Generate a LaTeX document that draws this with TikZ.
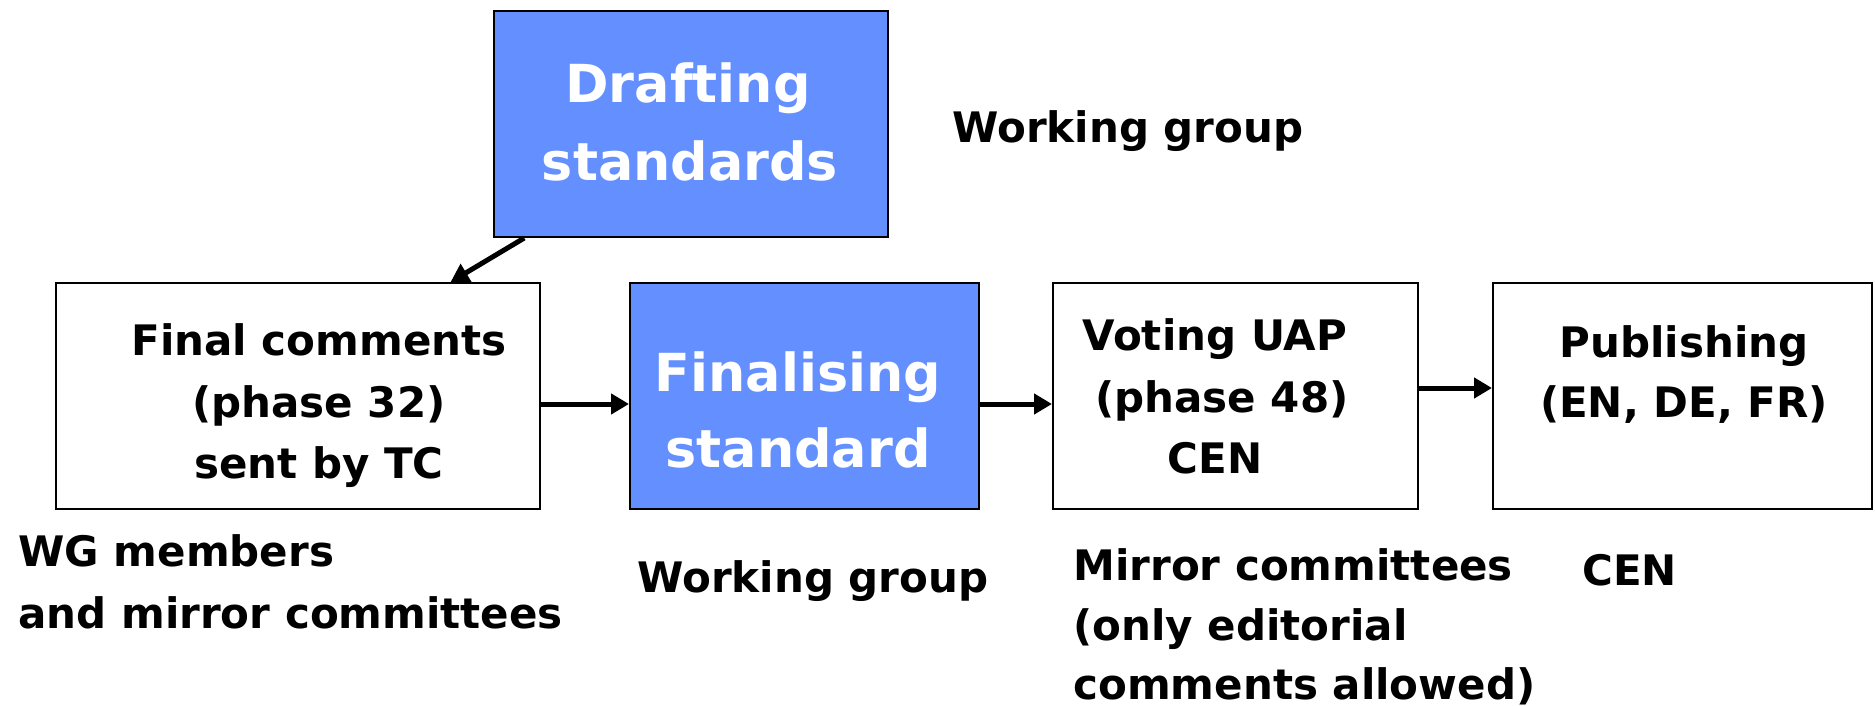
\documentclass[tikz,border=0pt]{standalone}
\usepackage{fontspec}
\setmainfont{DejaVu Sans}
\usetikzlibrary{arrows.meta,calc}
\definecolor{boxblue}{RGB}{99,143,255}
\tikzset{
  box/.style={draw=black,line width=1pt,inner sep=0pt,minimum height=113pt},
  bluebox/.style={box,fill=boxblue},
  whitebox/.style={box,fill=white},
  lbl/.style={inner sep=0pt,anchor=base,font=\fontsize{21}{31}\selectfont\bfseries},
  llbl/.style={lbl,anchor=base west},
  wlbl/.style={inner sep=0pt,anchor=base,text=white,font=\fontsize{26.2}{38}\selectfont\bfseries},
  arr/.style={line width=2.5pt,-{Triangle[length=9pt,width=10pt]}}
}
\begin{document}
\begin{tikzpicture}[x=0.5pt,y=-0.5pt]
\useasboundingbox (0,0) rectangle (1875,706);
% boxes
\node[bluebox,minimum width=197pt] (draft) at (691,124) {};
\node[whitebox,minimum width=242pt] (final) at (298,396) {};
\node[bluebox,minimum width=174.5pt] (finalising) at (804.5,396) {};
\node[whitebox,minimum width=182.5pt] (voting) at (1235.5,396) {};
\node[whitebox,minimum width=189.5pt] (publish) at (1682.5,396) {};
% box texts
\node[wlbl] (draftA) at (688,103) {Drafting};
\node[wlbl] (draftB) at (690,180) {standards};
\node[lbl] (finalA) at (319,355) {Final comments};
\node[lbl] (finalB) at (319,417) {(phase 32)};
\node[lbl] (finalC) at (319,478) {sent by TC};
\node[wlbl] (finA) at (798,391) {Finalising};
\node[wlbl] (finB) at (798,467) {standard};
\node[lbl] (votA) at (1215,350) {Voting UAP};
\node[lbl] (votB) at (1222,412) {(phase 48)};
\node[lbl] (votC) at (1215,473) {CEN};
\node[lbl] (pubA) at (1684,357) {Publishing};
\node[lbl] (pubB) at (1684,417) {(EN, DE, FR)};
% outside labels
\node[llbl] (wgtop) at (952,143) {Working group};
\node[llbl] (wgA) at (18,566) {WG members};
\node[llbl] (wgB) at (18,628) {and mirror committees};
\node[llbl] (wgmid) at (637,592) {Working group};
\node[llbl] (mirA) at (1073,580) {Mirror committees};
\node[llbl] (mirB) at (1073,640) {(only editorial};
\node[llbl] (mirC) at (1073,699) {comments allowed)};
\node[llbl] (cen) at (1582,585) {CEN};
% connectors
\draw[arr] ($(draft.south west)!0.079!(draft.south east)$) -- ($(final.north west)!0.814!(final.north east)$);
\draw[arr] ([yshift=-4pt]final.east) -- ([yshift=-4pt]finalising.west);
\draw[arr] ([yshift=-4pt]finalising.east) -- ([yshift=-4pt]voting.west);
\draw[arr] ([yshift=4pt]voting.east) -- ([yshift=4pt]publish.west);
\end{tikzpicture}
\end{document}
